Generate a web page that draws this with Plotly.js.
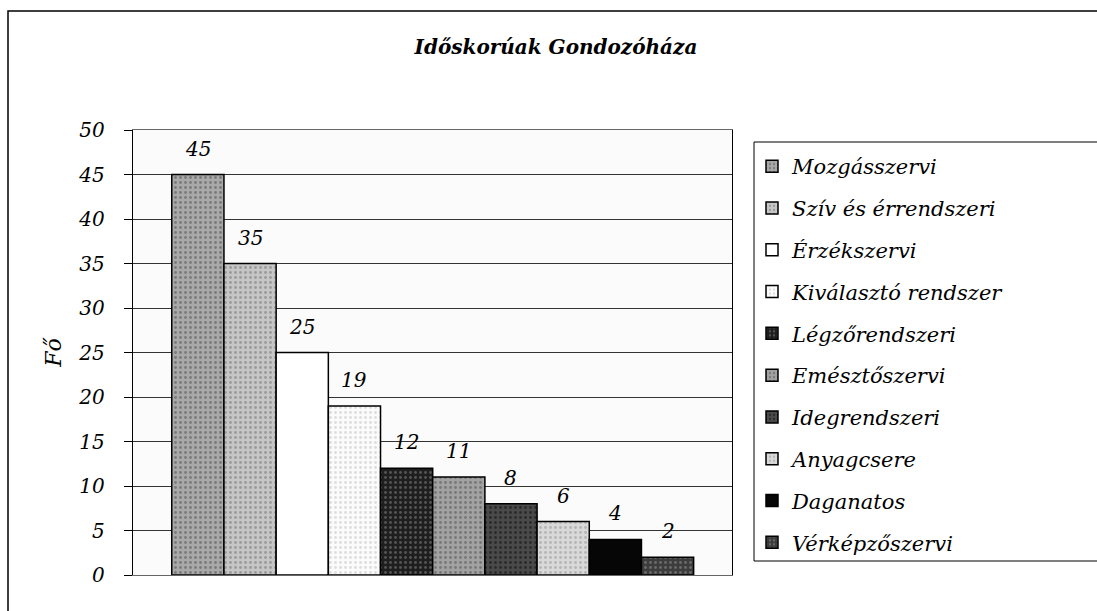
<!DOCTYPE html>
<html>
<head>
<meta charset="utf-8">
<script src="https://cdn.plot.ly/plotly-3.0.1.min.js"></script>
<style>
  html, body { margin: 0; padding: 0; background: #ffffff; }
  #chart { width: 1097px; height: 611px; }
</style>
</head>
<body>
<div id="chart"></div>
<script>
// ---- data ----
const chartTitle = "Időskorúak Gondozóháza";
const yAxisTitle = "Fő";
const categories = [
  "Mozgásszervi",
  "Szív és érrendszeri",
  "Érzékszervi",
  "Kiválasztó rendszer",
  "Légzőrendszeri",
  "Emésztőszervi",
  "Idegrendszeri",
  "Anyagcsere",
  "Daganatos",
  "Vérképzőszervi"
];
const values = [45, 35, 25, 19, 12, 11, 8, 6, 4, 2];
const yTicks = [0, 5, 10, 15, 20, 25, 30, 35, 40, 45, 50];

// ---- styles ----
const fills = ["#a9a9a9", "#c6c6c6", "#ffffff", "#fbfbfb", "#1e1e1e",
               "#a2a2a2", "#4a4a4a", "#d9d9d9", "#060606", "#3c3c3c"];
const patternFg = ["#7a7a7a", "#9a9a9a", "#ffffff", "#dddddd", "#555555",
                   "#777777", "#2a2a2a", "#b5b5b5", "#060606", "#6a6a6a"];
const serif = "DejaVu Serif";

const traces = categories.map((name, i) => ({
  type: "bar",
  name: name,
  legendgroup: "g" + i,
  x: [i],
  y: [values[i]],
  width: 1,
  marker: {
    color: fills[i],
    line: { color: "#000000", width: 1.5 },
    pattern: { shape: ".", size: 5, solidity: 0.25, fgcolor: patternFg[i], bgcolor: fills[i] }
  },
  hoverinfo: "skip"
}));

const annotations = values.map((v, i) => ({
  x: i, y: v, xref: "x", yref: "y",
  text: String(v),
  showarrow: false,
  yanchor: "bottom",
  yshift: 12,
  font: { family: serif, size: 20, color: "#000000", style: "italic" }
}));

const W = 1097, H = 611;
const mL = 133, mR = W - 732, mT = 130, mB = H - 575;
const pw = W - mL - mR, ph = H - mT - mB;

const layout = {
  width: W, height: H,
  margin: { l: mL, r: mR, t: mT, b: mB, pad: 0 },
  paper_bgcolor: "#ffffff",
  plot_bgcolor: "#fbfbfb",
  barmode: "overlay",
  showlegend: true,
  title: {
    text: "<b><i>" + chartTitle + "</i></b>",
    font: { family: serif, size: 20, color: "#000000" },
    xref: "container", yref: "container",
    x: 556 / W, y: 1 - 47 / H, xanchor: "center", yanchor: "middle"
  },
  xaxis: {
    range: [-1.243, 10.235],
    showticklabels: false,
    ticks: "",
    showgrid: false,
    zeroline: false,
    showline: true, linecolor: "#666666", linewidth: 1, mirror: true,
    fixedrange: true
  },
  yaxis: {
    range: [0, 50],
    tickvals: yTicks,
    ticktext: yTicks.map(String),
    ticks: "outside", ticklen: 8, tickcolor: "#000000", tickwidth: 1,
    ticklabelstandoff: 15,
    tickfont: { family: serif, size: 20, color: "#000000", style: "italic" },
    showgrid: true, gridcolor: "#333333", gridwidth: 1,
    zeroline: false,
    showline: true, linecolor: "#000000", linewidth: 1.2, mirror: true,
    title: {
      text: yAxisTitle,
      font: { family: serif, size: 22, color: "#000000", style: "italic" },
      standoff: 10
    },
    fixedrange: true
  },
  legend: {
    x: (752 - mL) / pw, xanchor: "left",
    y: (575 - 146) / ph, yanchor: "top",
    bgcolor: "rgba(255,255,255,0)",
    borderwidth: 0,
    font: { family: serif, size: 21, color: "#000000", style: "italic" },
    tracegroupgap: 11.5,
    traceorder: "grouped"
  },
  annotations: annotations,
  shapes: [{
    type: "rect", xref: "paper", yref: "paper",
    x0: (8 - mL) / pw, x1: 2,
    y0: -1, y1: (575 - 11) / ph,
    line: { color: "#000000", width: 1.5 },
    fillcolor: "rgba(0,0,0,0)",
    layer: "below"
  }, {
    type: "rect", xref: "paper", yref: "paper",
    x0: (754 - mL) / pw, x1: 2,
    y0: (575 - 561) / ph, y1: (575 - 142) / ph,
    line: { color: "#000000", width: 1 },
    fillcolor: "#ffffff",
    layer: "below"
  }]
};

Plotly.newPlot("chart", traces, layout, { staticPlot: true, displayModeBar: false });
</script>
</body>
</html>
